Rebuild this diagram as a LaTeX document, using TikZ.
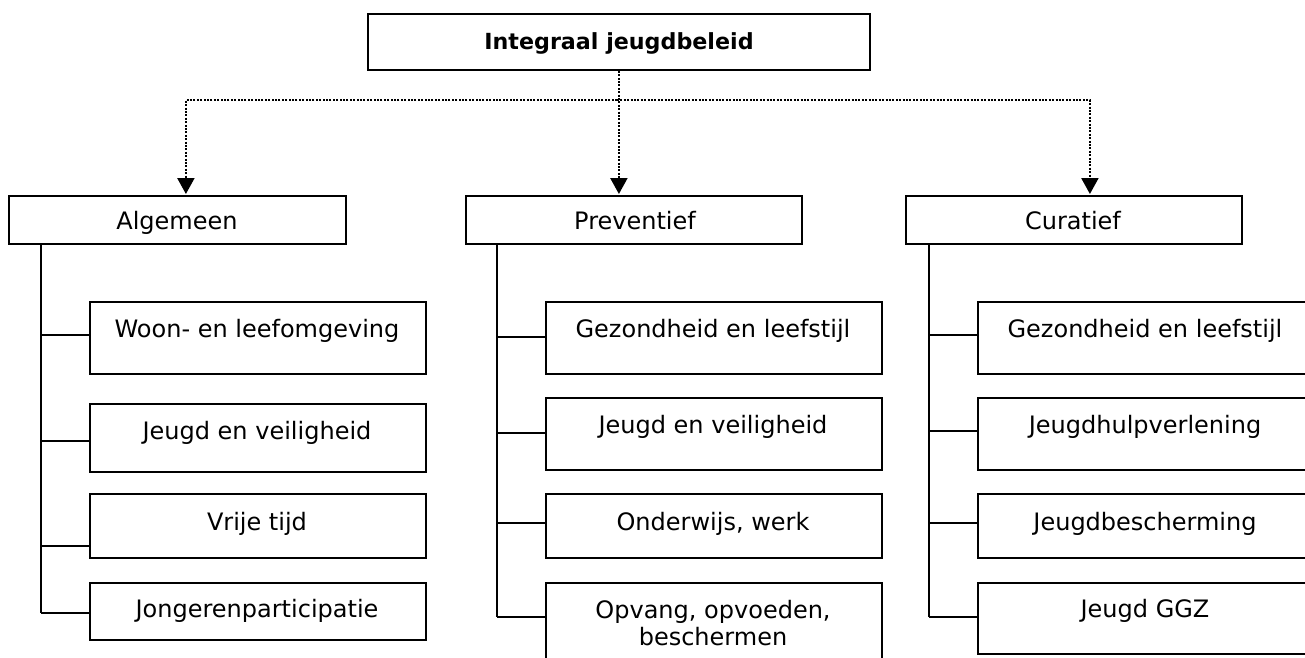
\documentclass[tikz,border=0pt]{standalone}
\usepackage{fontspec}
\setmainfont{DejaVu Sans}
\usetikzlibrary{arrows.meta}
\begin{document}
\begin{tikzpicture}[x=1pt,y=-1pt,
  box/.style={draw,line width=1.8pt,inner sep=0pt,anchor=north west},
  txt/.style={font=\fontsize{24}{27}\selectfont,anchor=base,inner sep=0pt,align=center},
  ttl/.style={font=\fontsize{22.2}{27}\selectfont\bfseries,anchor=base,inner sep=0pt},
  conn/.style={line width=1.8pt},
  dotconn/.style={line width=2.2pt,dash pattern=on 2pt off 1.4pt},
  tip/.style={-{Triangle[width=17pt,length=16pt]},shorten >=1pt}]
\useasboundingbox (0,0) rectangle (1305,657);
\clip (0,0) rectangle (1305,657);
% top
\node[box,minimum width=502pt,minimum height=56pt] (T) at (367,13) {};
\node[ttl] (Tt) at (619,49) {Integraal jeugdbeleid};
% level 1
\node[box,minimum width=337pt,minimum height=48pt] (A) at (8,195) {};
\node[box,minimum width=336pt,minimum height=48pt] (P) at (465,195) {};
\node[box,minimum width=336pt,minimum height=48pt] (C) at (905,195) {};
\node[txt] (At) at (177,229) {Algemeen};
\node[txt] (Pt) at (635,229) {Preventief};
\node[txt] (Ct) at (1073,229) {Curatief};
% dotted connectors
\coordinate (hb) at (617,100);
\draw[dotconn,tip] (T.south) -- (T.south |- P.north);
\draw[dotconn,tip] (hb) -| ([xshift=8.5pt]A.north);
\draw[dotconn,tip] (hb) -| ([xshift=16pt]C.north);
% Algemeen children
\node[box,minimum width=336pt,minimum height=72pt] (a1) at (89,301) {};
\node[box,minimum width=336pt,minimum height=68pt] (a2) at (89,403) {};
\node[box,minimum width=336pt,minimum height=64pt] (a3) at (89,493) {};
\node[box,minimum width=336pt,minimum height=57pt] (a4) at (89,582) {};
\node[txt] (a1t) at (257,337) {Woon- en leefomgeving};
\node[txt] (a2t) at (257,439) {Jeugd en veiligheid};
\node[txt] (a3t) at (257,530) {Vrije tijd};
\node[txt] (a4t) at (257,617) {Jongerenparticipatie};
\coordinate (ja1) at (41,335);
\coordinate (ja2) at (41,441);
\coordinate (ja3) at (41,546);
\coordinate (ja4) at (41,613);
\draw[conn] (A.south -| ja1) -- (ja4);
\draw[conn] (ja1) -- (ja1 -| a1.west);
\draw[conn] (ja2) -- (ja2 -| a2.west);
\draw[conn] (ja3) -- (ja3 -| a3.west);
\draw[conn] (ja4) -- (ja4 -| a4.west);
% Preventief children
\node[box,minimum width=336pt,minimum height=72pt] (p1) at (545,301) {};
\node[box,minimum width=336pt,minimum height=72pt] (p2) at (545,397) {};
\node[box,minimum width=336pt,minimum height=64pt] (p3) at (545,493) {};
\node[box,minimum width=336pt,minimum height=120pt] (p4) at (545,582) {};
\node[txt] (p1t) at (713,337) {Gezondheid en leefstijl};
\node[txt] (p2t) at (713,433) {Jeugd en veiligheid};
\node[txt] (p3t) at (713,530) {Onderwijs, werk};
\node[txt,anchor=north] (p4t) at (713,600) {Opvang, opvoeden,\\beschermen};
\coordinate (jp1) at (497,337);
\coordinate (jp2) at (497,433);
\coordinate (jp3) at (497,523);
\coordinate (jp4) at (497,617);
\draw[conn] (P.south -| jp1) -- (jp4);
\draw[conn] (jp1) -- (jp1 -| p1.west);
\draw[conn] (jp2) -- (jp2 -| p2.west);
\draw[conn] (jp3) -- (jp3 -| p3.west);
\draw[conn] (jp4) -- (jp4 -| p4.west);
% Curatief children
\node[box,minimum width=336pt,minimum height=72pt] (c1) at (977,301) {};
\node[box,minimum width=336pt,minimum height=72pt] (c2) at (977,397) {};
\node[box,minimum width=336pt,minimum height=64pt] (c3) at (977,493) {};
\node[box,minimum width=336pt,minimum height=71pt] (c4) at (977,582) {};
\node[txt] (c1t) at (1145,337) {Gezondheid en leefstijl};
\node[txt] (c2t) at (1145,433) {Jeugdhulpverlening};
\node[txt] (c3t) at (1145,530) {Jeugdbescherming};
\node[txt] (c4t) at (1145,617) {Jeugd GGZ};
\coordinate (jc1) at (929,335);
\coordinate (jc2) at (929,431);
\coordinate (jc3) at (929,523);
\coordinate (jc4) at (929,617);
\draw[conn] (C.south -| jc1) -- (jc4);
\draw[conn] (jc1) -- (jc1 -| c1.west);
\draw[conn] (jc2) -- (jc2 -| c2.west);
\draw[conn] (jc3) -- (jc3 -| c3.west);
\draw[conn] (jc4) -- (jc4 -| c4.west);
\end{tikzpicture}
\end{document}
